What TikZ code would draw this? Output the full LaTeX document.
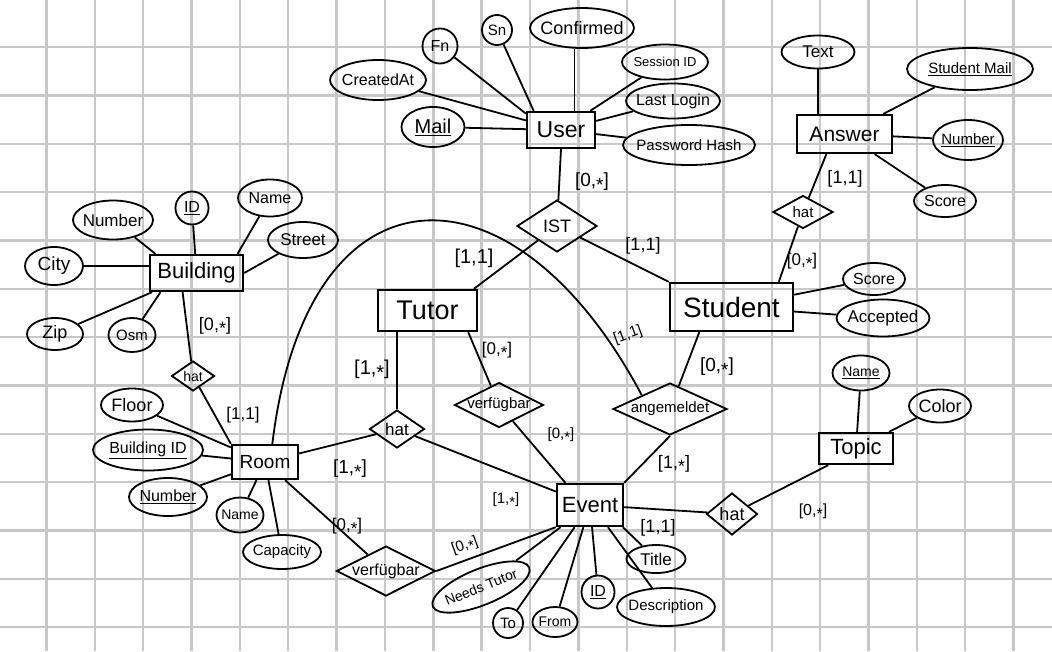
\documentclass[tikz,border=0pt]{standalone}
\usepackage{fontspec}
\setmainfont{Liberation Sans}
\usetikzlibrary{shapes.geometric}
\newcommand\zt[1]{\makebox[0pt]{#1}}
\newcommand\myfs[1]{\fontsize{#1}{#1}\selectfont}
\newcommand\cstar{\raisebox{-0.25em}{*}}
\definecolor{gridgray}{RGB}{200,200,200}
\begin{document}
\begin{tikzpicture}[x=1pt,y=-1pt,
  gridline/.style={draw=gridgray, line width=2.4},
  ent/.style={draw, rectangle, line width=2.3, inner sep=0},
  attr/.style={draw, ellipse, line width=1.8, inner sep=0},
  rel/.style={draw, diamond, line width=1.8, inner sep=0},
  con/.style={line width=1.8},
  card/.style={inner sep=0}]
\useasboundingbox (0,0) rectangle (1052,651);
\fill[white] (0,0) rectangle (1052,651);
\foreach \k in {0,...,20} \draw[gridline] ({46.5+48.35*\k},0) -- ({46.5+48.35*\k},651);
\foreach \k in {0,...,12} \draw[gridline] (0,{47+48.35*\k}) -- (1052,{47+48.35*\k});

% ---------- entities ----------
\node[ent, minimum width=68, minimum height=36, font=\myfs{23}] (user) at (561,130) {\zt{User}};
\node[ent, minimum width=95, minimum height=38, font=\myfs{21}] (answer) at (844.5,134) {\zt{Answer}};
\node[ent, minimum width=93, minimum height=36, font=\myfs{22}] (building) at (196.5,273) {\zt{Building}};
\node[ent, minimum width=99, minimum height=41, font=\myfs{27}] (tutor) at (427.5,310.5) {\zt{Tutor}};
\node[ent, minimum width=123, minimum height=48, font=\myfs{28}] (student) at (731.5,307) {\zt{Student}};
\node[ent, minimum width=74, minimum height=31, font=\myfs{22}] (topic) at (856,448.5) {\zt{Topic}};
\node[ent, minimum width=66, minimum height=34, font=\myfs{19}] (room) at (265,462) {\zt{Room}};
\node[ent, minimum width=66, minimum height=42, font=\myfs{22}] (event) at (590,505) {\zt{Event}};

% ---------- relationships ----------
\node[rel, minimum width=80, minimum height=52, font=\myfs{18}] (ist) at (557,226) {\zt{IST}};
\node[rel, minimum width=60, minimum height=33, font=\myfs{15}] (hata) at (803,212) {\zt{hat}};
\node[rel, minimum width=43, minimum height=30, font=\myfs{14}] (hatb) at (193,376) {\zt{hat}};
\node[rel, minimum width=55, minimum height=38, font=\myfs{17}] (hatr) at (397,429) {\zt{hat}};
\node[rel, minimum width=89, minimum height=45, font=\myfs{15}] (verft) at (499,405) {\zt{verfügbar}};
\node[rel, minimum width=99, minimum height=50, font=\myfs{16}] (verfr) at (386,571) {\zt{verfügbar}};
\node[rel, minimum width=114, minimum height=52, font=\myfs{15}] (ang) at (670,409) {\zt{angemeldet}};
\node[rel, minimum width=51, minimum height=42, font=\myfs{18}] (hatt) at (732,514) {\zt{hat}};

% ---------- attributes: User ----------
\node[attr, minimum width=35, minimum height=35, font=\myfs{16}] (fn) at (440,46) {\zt{Fn}};
\node[attr, minimum width=30, minimum height=30, font=\myfs{15}] (sn) at (497,30) {\zt{Sn}};
\node[attr, minimum width=104, minimum height=40, font=\myfs{18}] (conf) at (582,28) {\zt{Confirmed}};
\node[attr, minimum width=86, minimum height=35, font=\myfs{13}] (sess) at (665,62) {\zt{Session ID}};
\node[attr, minimum width=94, minimum height=35, font=\myfs{16}] (last) at (673,101) {\zt{Last Login}};
\node[attr, minimum width=132, minimum height=40, font=\myfs{15}] (pw) at (689,145) {\zt{Password Hash}};
\node[attr, minimum width=96, minimum height=40, font=\myfs{16}] (creat) at (378,80) {\zt{CreatedAt}};
\node[attr, minimum width=63, minimum height=40, font=\myfs{20}] (mail) at (433,127) {\zt{\underline{Mail}}};

% ---------- attributes: Answer ----------
\node[attr, minimum width=73, minimum height=33, font=\myfs{17}] (atext) at (818,52) {\zt{Text}};
\node[attr, minimum width=126, minimum height=42, font=\myfs{15}] (amail) at (970,69) {\zt{\underline{Student Mail}}};
\node[attr, minimum width=70, minimum height=40, font=\myfs{15}] (anum) at (968,140) {\zt{\underline{Number}}};
\node[attr, minimum width=62, minimum height=32, font=\myfs{16}] (ascore) at (945,201) {\zt{Score}};

% ---------- attributes: Building ----------
\node[attr, minimum width=80, minimum height=39, font=\myfs{17}] (bnum) at (113,220) {\zt{Number}};
\node[attr, minimum width=33, minimum height=33, font=\myfs{16}] (bid) at (192,208) {\zt{\underline{ID}}};
\node[attr, minimum width=64, minimum height=37, font=\myfs{16}] (bname) at (270,198) {\zt{Name}};
\node[attr, minimum width=70, minimum height=36, font=\myfs{17}] (bstreet) at (303,240) {\zt{Street}};
\node[attr, minimum width=58, minimum height=38, font=\myfs{19}] (bcity) at (54,266) {\zt{City}};
\node[attr, minimum width=56, minimum height=32, font=\myfs{18}] (bzip) at (55,334) {\zt{Zip}};
\node[attr, minimum width=47, minimum height=34, font=\myfs{15}] (bosm) at (132,335) {\zt{Osm}};

% ---------- attributes: Student, Topic ----------
\node[attr, minimum width=62, minimum height=32, font=\myfs{16}] (sscore) at (874,279) {\zt{Score}};
\node[attr, minimum width=93, minimum height=37, font=\myfs{17}] (sacc) at (883,318) {\zt{Accepted}};
\node[attr, minimum width=57, minimum height=35, font=\myfs{14}] (tname) at (861,373) {\zt{\underline{Name}}};
\node[attr, minimum width=62, minimum height=33, font=\myfs{18}] (tcolor) at (940,406) {\zt{Color}};

% ---------- attributes: Room ----------
\node[attr, minimum width=62, minimum height=33, font=\myfs{18}] (rfloor) at (132,405) {\zt{Floor}};
\node[attr, minimum width=110, minimum height=41, font=\myfs{16}] (rbid) at (148,450) {\zt{\underline{Building ID}}};
\node[attr, minimum width=78, minimum height=38, font=\myfs{16}] (rnum) at (168,497) {\zt{\underline{Number}}};
\node[attr, minimum width=47, minimum height=35, font=\myfs{14}] (rname) at (240,515) {\zt{Name}};
\node[attr, minimum width=78, minimum height=34, font=\myfs{15}] (rcap) at (282,552) {\zt{Capacity}};

% ---------- attributes: Event ----------
\node[attr, minimum width=59, minimum height=28, font=\myfs{17}] (etitle) at (656,559) {\zt{Title}};
\node[attr, minimum width=98, minimum height=38, font=\myfs{15}] (edesc) at (666,607) {\zt{Description}};
\node[attr, minimum width=33, minimum height=33, font=\myfs{16}] (eid) at (598,592) {\zt{\underline{ID}}};
\node[attr, minimum width=45, minimum height=30, font=\myfs{14}] (efrom) at (555,622) {\zt{From}};
\node[attr, minimum width=30, minimum height=30, font=\myfs{15}] (eto) at (508,623) {\zt{To}};
\node[attr, minimum width=104, minimum height=36, font=\myfs{14}, rotate=22] (eneeds) at (481,587) {\zt{Needs Tutor}};

% ---------- connectors ----------
\draw[con] (fn) -- (user.155);
\draw[con] (sn) -- (user.145);
\draw[con] (conf.250) -- (conf.250 |- user.north);
\draw[con] (sess) -- (user);
\draw[con] (last) -- (user);
\draw[con] (pw) -- (user);
\draw[con] (creat) -- (user);
\draw[con] (mail) -- (user);
\draw[con] (user.south) -- (ist);
\draw[con] (ist) -- (tutor.25);
\draw[con] (ist) -- (student.north west);

\draw[con] (atext) -- (atext |- answer.north);
\draw[con] (amail) -- (answer);
\draw[con] (anum) -- (answer);
\draw[con] (ascore) -- (answer);
\draw[con] (hata) -- (answer.228);
\draw[con] (hata) -- (student.28);

\draw[con] (student) -- (sscore);
\draw[con] (student) -- (sacc);
\draw[con] (student.218) -- (ang);
\draw[con] (ang.south) -- (event.north east);
\draw[con] (tname) -- (topic);
\draw[con] (tcolor) -- (topic);
\draw[con] (event) -- (hatt);
\draw[con] (hatt) -- (topic.211);

\draw[con] (bnum) -- (building.155);
\draw[con] (bid) -- (building);
\draw[con] (bname) -- (building.25);
\draw[con] (bstreet) -- (building.east);
\draw[con] (bcity) -- (bcity -| building.west);
\draw[con] (bzip) -- (building);
\draw[con] (bosm) -- (building.208);
\draw[con] (hatb) -- (building.234);
\draw[con] (hatb) -- (room.north west);

\draw[con] (hatr.north) -- (hatr.north |- tutor.south);
\draw[con] (tutor.332) -- (verft);
\draw[con] (verft) -- (event.138);

\draw[con] (rfloor) -- (room);
\draw[con] (rbid) -- (room);
\draw[con] (rnum) -- (room);
\draw[con] (rname) -- (room);
\draw[con] (rcap) -- (room);
\draw[con] (room) -- (hatr);
\draw[con] (hatr) -- (event);
\draw[con] (room) -- (verfr);
\draw[con] (verfr.east) -- (event.south west);
\draw[con] (room.68) .. controls (307,155) and (514,154) .. (ang.154);

\draw[con] (etitle) -- (event.-34);
\draw[con] (edesc) -- (event.-51);
\draw[con] (eid) -- (event);
\draw[con] (efrom) -- (event);
\draw[con] (eto) -- (event);
\draw[con] (eneeds) -- (event);

% ---------- cardinalities ----------
\node[card, font=\myfs{19}] (c-user-ist) at (592,182) {[0,\cstar]};
\node[card, font=\myfs{20}] (c-ist-tutor) at (474,258) {[1,1]};
\node[card, font=\myfs{18}] (c-ist-student) at (643,246) {[1,1]};
\node[card, font=\myfs{18}] (c-answer-hat) at (845,179) {[1,1]};
\node[card, font=\myfs{17}] (c-hat-student) at (802,261) {[0,\cstar]};
\node[card, font=\myfs{18}] (c-building-hat) at (215,326) {[0,\cstar]};
\node[card, font=\myfs{17}] (c-hat-room) at (243,415) {[1,1]};
\node[card, font=\myfs{20}] (c-tutor-hat) at (372,370) {[1,\cstar]};
\node[card, font=\myfs{17}] (c-tutor-verf) at (497,350) {[0,\cstar]};
\node[card, font=\myfs{15}, rotate=20] (c-arc) at (628,335) {[1,1]};
\node[card, font=\myfs{19}] (c-student-ang) at (717,367) {[0,\cstar]};
\node[card, font=\myfs{15}] (c-verf-event) at (561,435) {[0,\cstar]};
\node[card, font=\myfs{18}] (c-ang-event) at (674,464) {[1,\cstar]};
\node[card, font=\myfs{19}] (c-room-hat) at (350,469) {[1,\cstar]};
\node[card, font=\myfs{15}] (c-hat-event) at (506,500) {[1,\cstar]};
\node[card, font=\myfs{17}] (c-room-verf) at (347,526) {[0,\cstar]};
\node[card, font=\myfs{15}, rotate=20] (c-verf-event2) at (465,546) {[0,\cstar]};
\node[card, font=\myfs{18}] (c-event-hat) at (658,528) {[1,1]};
\node[card, font=\myfs{16}] (c-hat-topic) at (813,512) {[0,\cstar]};
\end{tikzpicture}
\end{document}
